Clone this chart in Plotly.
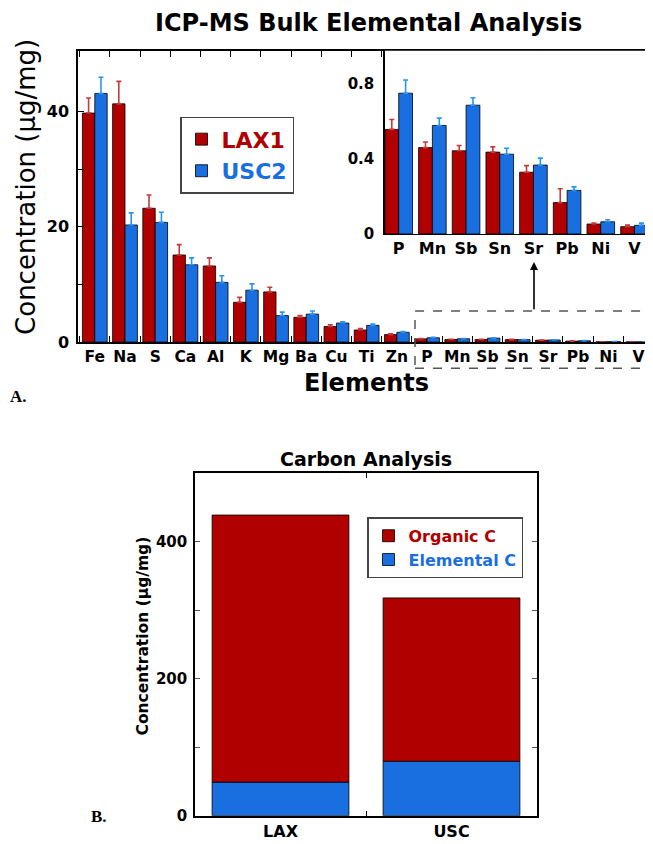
import plotly.graph_objects as go

# ---------------- data ----------------
big_elements = ["Fe", "Na", "S", "Ca", "Al", "K", "Mg", "Ba", "Cu", "Ti", "Zn"]
small_elements = ["P", "Mn", "Sb", "Sn", "Sr", "Pb", "Ni", "V"]
elements = big_elements + small_elements

lax1_big = [39.7, 41.3, 23.2, 15.1, 13.2, 6.9, 8.7, 4.3, 2.7, 2.1, 1.3]
lax1_big_err = [2.6, 3.9, 2.3, 1.8, 1.4, 0.85, 0.8, 0.3, 0.3, 0.25, 0.15]
usc2_big = [43.1, 20.3, 20.75, 13.4, 10.35, 9.0, 4.6, 4.85, 3.3, 2.9, 1.7]
usc2_big_err = [2.8, 2.1, 1.75, 1.2, 1.15, 1.1, 0.6, 0.55, 0.2, 0.25, 0.15]

lax1_small = [0.557, 0.46, 0.443, 0.436, 0.329, 0.167, 0.053, 0.039]
lax1_small_err = [0.053, 0.03, 0.028, 0.028, 0.035, 0.074, 0.005, 0.008]
usc2_small = [0.75, 0.578, 0.686, 0.425, 0.367, 0.232, 0.065, 0.046]
usc2_small_err = [0.07, 0.039, 0.04, 0.032, 0.037, 0.019, 0.011, 0.012]

sites = ["LAX", "USC"]
elemental_c = [49, 79.5]
organic_c = [390, 238.5]

RED = "#b00000"
BLUE = "#1a6fe0"
RED_ERR = "#c83a3a"
BLUE_ERR = "#2a93f2"
FONT = "DejaVu Sans"

# page placement (body margin offset; vertical capture scale)
OFFX = 8.0
OFFY, SCY = 8.3, 0.987
W, H = 645, 847
def px(t):
    return (t - OFFX) / W
def py(t):
    return 1 - ((t - OFFY) / SCY) / H

lax1_all = lax1_big + lax1_small
usc2_all = usc2_big + usc2_small
lax1_all_err = lax1_big_err + lax1_small_err
usc2_all_err = usc2_big_err + usc2_small_err

fig = go.Figure()

def err(arr, color):
    return dict(type="data", array=arr, arrayminus=[0] * len(arr), symmetric=False,
                color=color, thickness=1.6, width=2.5)

# main chart
fig.add_trace(go.Bar(x=elements, y=lax1_all, name=f"<span style='color:{RED}'>LAX1</span>",
                     marker=dict(color=RED, line=dict(color="black", width=0.8)),
                     error_y=err(lax1_all_err, RED_ERR), xaxis="x", yaxis="y", legend="legend"))
fig.add_trace(go.Bar(x=elements, y=usc2_all, name=f"<span style='color:{BLUE}'>USC2</span>",
                     marker=dict(color=BLUE, line=dict(color="black", width=0.8)),
                     error_y=err(usc2_all_err, BLUE_ERR), xaxis="x", yaxis="y", legend="legend"))

# inset
fig.add_trace(go.Bar(x=small_elements, y=lax1_small, showlegend=False,
                     marker=dict(color=RED, line=dict(color="black", width=0.8)),
                     error_y=err(lax1_small_err, RED_ERR), xaxis="x2", yaxis="y2"))
fig.add_trace(go.Bar(x=small_elements, y=usc2_small, showlegend=False,
                     marker=dict(color=BLUE, line=dict(color="black", width=0.8)),
                     error_y=err(usc2_small_err, BLUE_ERR), xaxis="x2", yaxis="y2"))

# carbon chart (stacked via base)
fig.add_trace(go.Bar(x=sites, y=elemental_c, name=f"<span style='color:{BLUE}'>Elemental C</span>",
                     marker=dict(color=BLUE, line=dict(color="black", width=0.8)),
                     width=0.8, offset=-0.4, xaxis="x3", yaxis="y3", legend="legend2"))
fig.add_trace(go.Bar(x=sites, y=organic_c, base=elemental_c,
                     name=f"<span style='color:{RED}'>Organic C</span>",
                     marker=dict(color=RED, line=dict(color="black", width=0.8)),
                     width=0.8, offset=-0.4, xaxis="x3", yaxis="y3", legend="legend2"))

def bold(size):
    return dict(family=FONT, size=size, color="black", weight="bold")

fig.update_layout(
    width=W, height=H, margin=dict(l=0, r=0, t=0, b=0),
    paper_bgcolor="white", plot_bgcolor="white",
    barmode="group", bargap=0.18, bargroupgap=0,
    font=dict(family=FONT, color="black"),
    xaxis=dict(domain=[px(78), 1], anchor="y", range=[-0.556, 18.48],
               showline=True, linecolor="black", linewidth=1.5, mirror="allticks",
               ticks="inside", ticklen=6, tickcolor="black", tickson="boundaries",
               tickangle=0, tickfont=bold(15.5), showgrid=False, zeroline=False),
    yaxis=dict(domain=[py(342), py(51)], anchor="x", range=[0, 50.5],
               showline=True, linecolor="black", linewidth=1.5,
               ticks="inside", ticklen=6, tickcolor="black",
               tickvals=[0, 10, 20, 30, 40], ticktext=["0", "", "20", "", "40"],
               tickfont=bold(16), showgrid=False, zeroline=False, ticklabelstandoff=4),
    xaxis2=dict(domain=[px(385), 1], anchor="y2", range=[-0.407, 7.55],
                showline=True, linecolor="black", linewidth=1.2,
                ticks="", tickangle=0, tickfont=bold(16), showgrid=False, zeroline=False),
    yaxis2=dict(domain=[py(234), py(51)], anchor="x2", range=[0, 0.976],
                showline=True, linecolor="black", linewidth=1.5,
                ticks="", tickvals=[0, 0.4, 0.8], ticktext=["0", "0.4", "0.8"],
                tickfont=bold(15), showgrid=False, zeroline=False, ticklabelstandoff=6),
    xaxis3=dict(domain=[px(195), px(537)], anchor="y3", range=[-0.5, 1.5],
                showline=True, linecolor="black", linewidth=1.5, mirror="allticks",
                ticks="inside", ticklen=5, tickcolor="black", tickson="boundaries",
                tickfont=bold(16), showgrid=False, zeroline=False),
    yaxis3=dict(domain=[py(815), py(473)], anchor="x3", range=[0, 500],
                showline=True, linecolor="black", linewidth=1.5, mirror="allticks",
                ticks="inside", ticklen=5, tickcolor="#555",
                tickvals=[0, 100, 200, 300, 400], ticktext=["0", "", "200", "", "400"],
                tickfont=bold(15), showgrid=False, zeroline=False, ticklabelstandoff=3),
    legend=dict(x=px(180), y=py(117), xanchor="left", yanchor="top",
                bgcolor="white", bordercolor="#444", borderwidth=1.5,
                font=bold(22), traceorder="normal", tracegroupgap=0, itemwidth=30),
    legend2=dict(x=px(367), y=py(517), xanchor="left", yanchor="top",
                 bgcolor="white", bordercolor="#444", borderwidth=1.5,
                 font=bold(16), traceorder="reversed", tracegroupgap=0, itemwidth=30),
)

def note(text, x, y, size, is_bold=True, angle=0, family=FONT):
    return dict(text=text, x=px(x), y=py(y), xref="paper", yref="paper",
                xanchor="center", yanchor="middle", showarrow=False, textangle=angle,
                font=dict(family=family, size=size, weight="bold" if is_bold else "normal",
                          color="black"))

annotations = [
    note("ICP-MS Bulk Elemental Analysis", 369, 23, 24),
    note("Elements", 366, 383, 24),
    note("Concentration (µg/mg)", 26, 187, 26, is_bold=False, angle=-90),
    note("Carbon Analysis", 366, 459, 19),
    note("Concentration (µg/mg)", 143, 636, 15.5, angle=-90),
    note("A.", 18, 396, 17, family="Liberation Serif"),
    note("B.", 99, 816, 17, family="Liberation Serif"),
    dict(text="", x=px(534), y=py(262), xref="paper", yref="paper", showarrow=True,
         ax=0, ay=48 / SCY, arrowhead=2, arrowsize=1, arrowwidth=1.6, arrowcolor="black"),
]
fig.update_layout(annotations=annotations)

fig.add_shape(type="rect", xref="paper", yref="paper",
              x0=px(415), x1=px(652), y0=py(368), y1=py(311),
              line=dict(color="#555", width=1.5, dash="dash"), fillcolor="rgba(0,0,0,0)")

fig.write_html("out.html")
